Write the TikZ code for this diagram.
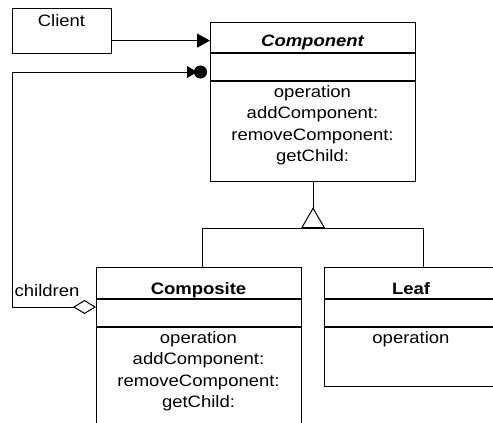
\documentclass[tikz,border=0pt]{standalone}
\usepackage{fontspec}
\setmainfont{Liberation Sans}[FakeStretch=1.12]
\usetikzlibrary{arrows.meta}

\begin{document}
\begin{tikzpicture}[x=1pt, y=-1pt,
    font=\fontsize{16.5pt}{21.3pt}\selectfont,
    classbox/.style={draw, line width=1.2pt, inner sep=0pt, anchor=north west},
    divider/.style={line width=2pt},
    link/.style={line width=1pt},
    label/.style={anchor=base, inner sep=0pt},
  ]
  \useasboundingbox (0,0) rectangle (493,423);
  \clip (0,0) rectangle (493,423);

  % client
  \node[classbox, minimum width=99pt, minimum height=45pt] (client) at (12,8) {};
  \node[label] (clientname) at (61.5,26.5) {Client};

  % component
  \node[classbox, minimum width=205pt, minimum height=159pt] (component) at (210,22) {};
  \node[label] (compname) at (312.5,46.5) {\bfseries\itshape Component};
  \draw[divider] (component.north west) ++(0,30.5) -- ++(205,0);
  \draw[divider] (component.north west) ++(0,58.5) -- ++(205,0);
  \foreach \m [count=\i from 0] in {operation, addComponent:, removeComponent:, getChild:}
    \node[label] (compop\i) at (312.5,{97.5+21.3*\i}) {\m};

  % composite
  \node[classbox, minimum width=205pt, minimum height=200pt] (composite) at (96,267) {};
  \node[label] (compositename) at (198.5,294) {\bfseries Composite};
  \draw[divider] (composite.north west) ++(0,31.5) -- ++(205,0);
  \draw[divider] (composite.north west) ++(0,59.5) -- ++(205,0);
  \foreach \m [count=\i from 0] in {operation, addComponent:, removeComponent:, getChild:}
    \node[label] (compositeop\i) at (198.5,{343.5+21.3*\i}) {\m};

  % leaf
  \node[classbox, minimum width=174pt, minimum height=119pt] (leaf) at (324,267) {};
  \node[label] (leafname) at (411,294) {\bfseries Leaf};
  \draw[divider] (leaf.north west) ++(0,31.5) -- ++(174,0);
  \draw[divider] (leaf.north west) ++(0,59.5) -- ++(174,0);
  \node[label] (leafop) at (411,343.5) {operation};

  % client -> component
  \coordinate (clientout) at ([yshift=-9.5pt]client.east);
  \draw[link, -{Triangle[length=13pt,width=14pt]}] (clientout) -- (clientout -| component.west);

  % children aggregation
  \coordinate (aggend) at ([shift={(-3pt,-50pt)}]component.north west);
  \coordinate (aggstart) at ([yshift=-40pt]composite.north west);
  \draw[link, {Diamond[open, fill=white, length=23pt, width=14pt]}-{Triangle[length=10pt,width=12pt,sep=-3pt] Circle[length=13pt]}]
    (aggstart) -- ++(-84,0) |- (aggend);
  \node[anchor=base west, inner sep=0pt] (children) at (14.5,296.5) {children};

  % generalization
  \coordinate (apex) at ([yshift=-26pt]component.south);
  \coordinate (fork) at ([yshift=-20pt]apex);
  \draw[link] (component.south) -- (apex);
  \draw[link] ([xshift=3.8pt]composite.north) |- (fork) -| ([xshift=11.7pt]leaf.north);
  \draw[link, fill=white] (apex) -- ++(11.5,20) -- ++(-23,0) -- cycle;
  \draw[line width=2.5pt] ([xshift=-11.5pt]fork) -- ([xshift=11.5pt]fork);
\end{tikzpicture}
\end{document}
